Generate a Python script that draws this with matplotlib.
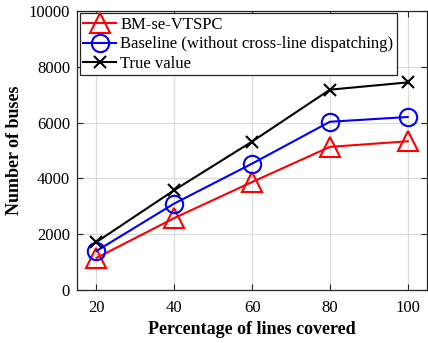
import matplotlib
matplotlib.use("Agg")
import matplotlib.pyplot as plt

x_pct = [20, 40, 60, 80, 100]
bm_vtspc = [1150, 2580, 3870, 5130, 5330]
baseline = [1400, 3100, 4530, 6030, 6200]
true_value = [1720, 3580, 5320, 7180, 7440]
labels = ["BM-se-VTSPC", "Baseline (without cross-line dispatching)", "True value"]

plt.rcParams['font.family'] = ['Liberation Serif', 'DejaVu Serif']
plt.rcParams['mathtext.fontset'] = 'stix'

fig = plt.figure(figsize=(4.28, 3.43), dpi=100)
ax = fig.add_axes([0.18, 0.1545, 0.818, 0.8135])

ax.plot(x_pct, bm_vtspc, color='red', lw=1.5, marker='^', ms=15, mfc='none', mew=1.5, label=labels[0])
ax.plot(x_pct, baseline, color='blue', lw=1.5, marker='o', ms=12.5, mfc='none', mew=1.5, label=labels[1])
ax.plot(x_pct, true_value, color='black', lw=1.5, marker='x', ms=9, mew=1.5, label=labels[2])

ax.set_xlim(15, 105)
ax.set_ylim(0, 10000)
ax.set_xticks(x_pct)
ax.set_yticks([0, 2000, 4000, 6000, 8000, 10000])
ax.grid(True, color='#dcdcdc', lw=0.9)
ax.set_axisbelow(True)
ax.tick_params(direction='in', top=True, right=True, labelsize=12, colors='#262626', length=4)
ax.tick_params(axis='x', pad=7)
ax.tick_params(axis='y', pad=5)
for s in ax.spines.values():
    s.set_color('#262626')
    s.set_linewidth(0.9)
ax.tick_params(labelcolor='black')

ax.set_xlabel("Percentage of lines covered", fontsize=13, fontweight='bold', labelpad=4)
ax.set_ylabel("Number of buses", fontsize=13, fontweight='bold', labelpad=4)

leg = ax.legend(loc='upper left', fontsize=12, fancybox=False, framealpha=1,
                edgecolor='#262626', borderpad=0.2, labelspacing=0.22,
                handlelength=2.0, handletextpad=0.25, borderaxespad=0.15)
leg.get_frame().set_linewidth(0.9)

fig.savefig("out.png", dpi=100)
